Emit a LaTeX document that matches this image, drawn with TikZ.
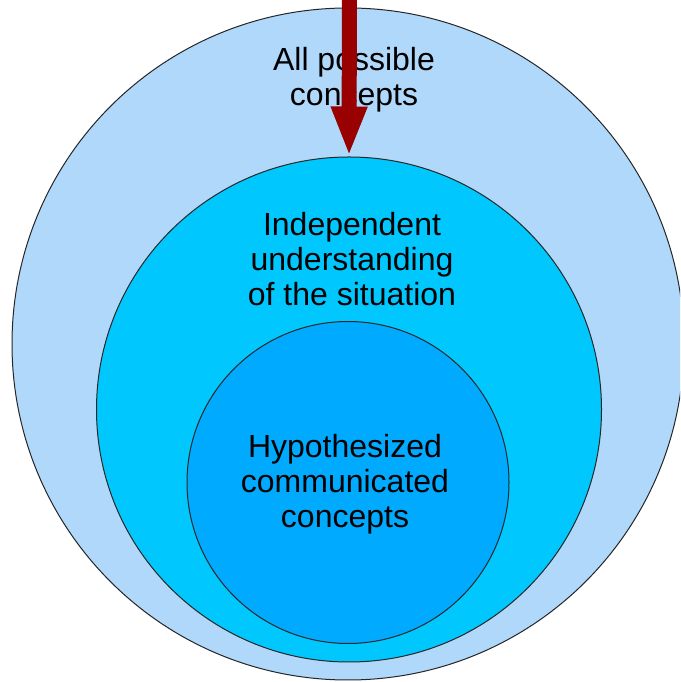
\documentclass[tikz,border=0pt]{standalone}
\usepackage{fontspec}
\setmainfont{Liberation Sans}
\usetikzlibrary{arrows.meta}
\definecolor{outerblue}{HTML}{B0D8FB}
\definecolor{midblue}{HTML}{00C8FF}
\definecolor{innerblue}{HTML}{00AAFF}
\definecolor{arrowred}{HTML}{990000}
\tikzset{
  ring/.style={circle, draw=black!85, line width=1pt, inner sep=0pt},
  label text/.style={align=center, font=\fontsize{32}{35}\selectfont, text=black, inner sep=0pt},
}
\begin{document}
\begin{tikzpicture}[x=1pt,y=1pt]
\path[use as bounding box, fill=white] (0,0) rectangle (680,682);
\clip (0,0) rectangle (680,682);
\node[ring, fill=outerblue, minimum size=672pt] (outer) at (348,338) {};
\node[ring, fill=midblue, minimum size=505pt] (mid) at (349,272.5) {};
\node[ring, fill=innerblue, minimum size=322pt] (inner) at (348,199.5) {};
\node[label text] (t1) at (354,602) {All possible\\concepts};
\node[label text] (t2) at (352,423) {Independent\\understanding\\of the situation};
\node[label text] (t3) at (345,198) {Hypothesized\\communicated\\concepts};
\coordinate (top) at (349.5,690);
\draw[arrowred, line width=15pt, -{Triangle[length=50pt,width=33pt]}] (top) -- (mid.north);
\end{tikzpicture}
\end{document}
